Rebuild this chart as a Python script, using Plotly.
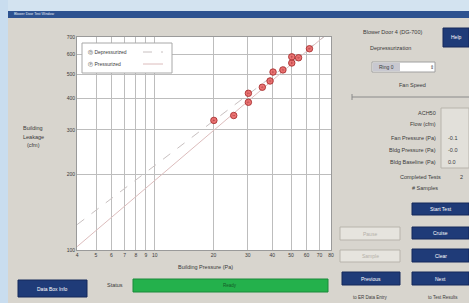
import plotly.graph_objects as go

# ---------------- data ----------------
pressure_pa = [20.1, 25.4, 30.2, 30.2, 35.6, 39.0, 40.4, 45.4, 50.4, 50.4, 54.6, 62.1]
flow_cfm = [327, 342, 386, 419, 443, 469, 509, 519, 553, 585, 580, 630]

fit_pressure = [4, 80]
depress_fit = [126, 737]
press_fit = [103, 744]

x_ticks = [4, 5, 6, 7, 8, 9, 10, 20, 30, 40, 50, 60, 70, 80]
y_ticks = [100, 200, 300, 400, 500, 600, 700]

panel_labels = ["ACH50", "Flow (cfm)", "Fan Pressure (Pa)", "Bldg Pressure (Pa)", "Bldg Baseline (Pa)"]
panel_values = ["", "", "-0.1", "-0.0", "0.0"]

# ---------------- layout helpers ----------------
W, H = 469, 303
L, R, T, B = 77, 138, 37, 53
PW, PH = W - L - R, H - T - B


def X(px):
    return (px - L) / PW


def Y(py):
    return (H - B - py) / PH


TXT = "#3a3a3a"
BODY = "#d8d5ce"
BTN = "#1f3b78"

fig = go.Figure()

fig.add_trace(go.Scatter(x=fit_pressure, y=press_fit, mode="lines",
                         line=dict(color="#dcbcbc", width=1), showlegend=False,
                         hoverinfo="skip"))
fig.add_trace(go.Scatter(x=fit_pressure, y=depress_fit, mode="lines",
                         line=dict(color="#c8c0c0", width=1, dash="dash"), showlegend=False,
                         hoverinfo="skip"))
fig.add_trace(go.Scatter(x=pressure_pa, y=flow_cfm, mode="markers",
                         marker=dict(symbol="circle-dot", size=6.5, color="rgba(230,90,90,0.85)",
                                     line=dict(color="rgba(165,45,45,0.85)", width=1)),
                         showlegend=False))

shapes = []
ann = []


def rect(x0, y0, x1, y1, fill, line=None, lw=0):
    shapes.append(dict(type="rect", xref="paper", yref="paper",
                       x0=X(x0), x1=X(x1), y0=Y(y1), y1=Y(y0),
                       fillcolor=fill, line=dict(color=line or fill, width=lw), layer="above"))


def text(px, py, s, size=5.5, color=TXT, anchor="center"):
    ann.append(dict(xref="paper", yref="paper", x=X(px), y=Y(py), text=s, showarrow=False,
                    xanchor=anchor, yanchor="middle", font=dict(size=size, color=color)))


def line(x0, y0, x1, y1, color, dash="solid", w=1):
    shapes.append(dict(type="line", xref="paper", yref="paper", x0=X(x0), x1=X(x1),
                       y0=Y(y0), y1=Y(y1), line=dict(color=color, width=w, dash=dash), layer="above"))


# desktop / window frame
rect(0, 0, 469, 11, "#d3e3f0")
rect(0, 0, 8, 303, "#c9ddef")
rect(8, 11, 469, 18, "#2d5290")
text(12, 14.5, "Blower Door Test Window", size=3.5, color="#e8eef8", anchor="left")

# legend box
rect(82, 43, 172, 73, "white", "#a8a8a8", 1)
text(86, 52, "Ⓓ Depressurized", size=5, anchor="left")
text(86, 64, "Ⓟ Pressurized", size=5, anchor="left")
line(143, 52, 163, 52, "#c8c0c0", "dash")
line(143, 64, 163, 64, "#dcbcbc")

# axis titles
text(205, 267, "Building Pressure (Pa)", size=5.5)
text(33, 128, "Building", size=5.5)
text(33, 137, "Leakage", size=5.5)
text(33, 145, "(cfm)", size=5.5)

# right panel
text(392, 32, "Blower Door 4 (DG-700)", size=5.5)
rect(443, 28, 469, 47, BTN, "#16295a", 1)
text(456, 37, "Help", size=5, color="white")
text(390, 48, "Depressurization", size=5.5)
rect(372, 62, 435, 72, "white", "#a0a0a0", 1)
rect(373, 63, 400, 71, "#c8c8d0")
text(386, 67, "Ring 0", size=5)
text(432, 67, "⇕", size=5)
text(412, 85, "Fan Speed", size=5.5)
line(352, 97, 469, 97, "#8a8a8a")
line(352, 94, 352, 100, "#8a8a8a")
rect(441, 108, 469, 168, "#e2e0da", "#b8b4ac", 1)
label_y = [113, 124, 138, 150, 162]
for s, v, yy in zip(panel_labels, panel_values, label_y):
    text(438, yy, s, size=5.5, anchor="right")
    text(446, yy, v, size=5.5, anchor="left")
text(443, 177, "Completed Tests", size=5.5, anchor="right")
text(458, 177, "2", size=5.5, anchor="left")
text(440, 188, "# Samples", size=5.5, anchor="right")

# buttons
for (x0, y0, x1, y1, s) in [(412, 203, 469, 215, "Start Test"), (412, 227, 469, 239, "Cruise"),
                            (412, 249, 469, 262, "Clear"), (412, 272, 469, 285, "Next"),
                            (342, 272, 400, 285, "Previous"), (18, 280, 87, 297, "Data Box Info")]:
    rect(x0, y0, x1, y1, BTN, "#15285a", 1)
    text((x0 + x1) / 2, (y0 + y1) / 2, s, size=5, color="white")
for (x0, y0, x1, y1, s) in [(340, 227, 400, 240, "Pause"), (340, 250, 400, 262, "Sample")]:
    rect(x0, y0, x1, y1, "#e6e4de", "#b8b4ac", 1)
    text((x0 + x1) / 2, (y0 + y1) / 2, s, size=5, color="#b4b0a8")
text(370, 297, "to ER Data Entry", size=4.5)
text(443, 297, "to Test Results", size=4.5)

# status
text(115, 285, "Status", size=5.5)
rect(133, 279, 328, 292, "#24b14c", "#1a8a3a", 1)
text(230, 285.5, "Ready", size=4.5, color="#145a26")

axis_common = dict(type="log", showgrid=True, gridcolor="#bdbdbd", gridwidth=1,
                   showline=True, linecolor="#9a9a9a", mirror=True, zeroline=False,
                   tickfont=dict(size=5, color=TXT), ticks="")

fig.update_layout(
    width=W, height=H,
    margin=dict(l=L, r=R, t=T, b=B),
    paper_bgcolor=BODY, plot_bgcolor="white",
    font=dict(family="Liberation Sans, Arial, sans-serif"),
    xaxis=dict(range=[0.6015, 1.9035], tickvals=x_ticks, ticktext=[str(v) for v in x_ticks], **axis_common),
    yaxis=dict(range=[1.9995, 2.8460], tickvals=y_ticks, ticktext=[str(v) for v in y_ticks], **axis_common),
    shapes=shapes, annotations=ann, showlegend=False,
)

fig.write_html("out.html", config={"displayModeBar": False},
               post_script="document.body.style.margin='0px';document.body.style.overflow='hidden';")
